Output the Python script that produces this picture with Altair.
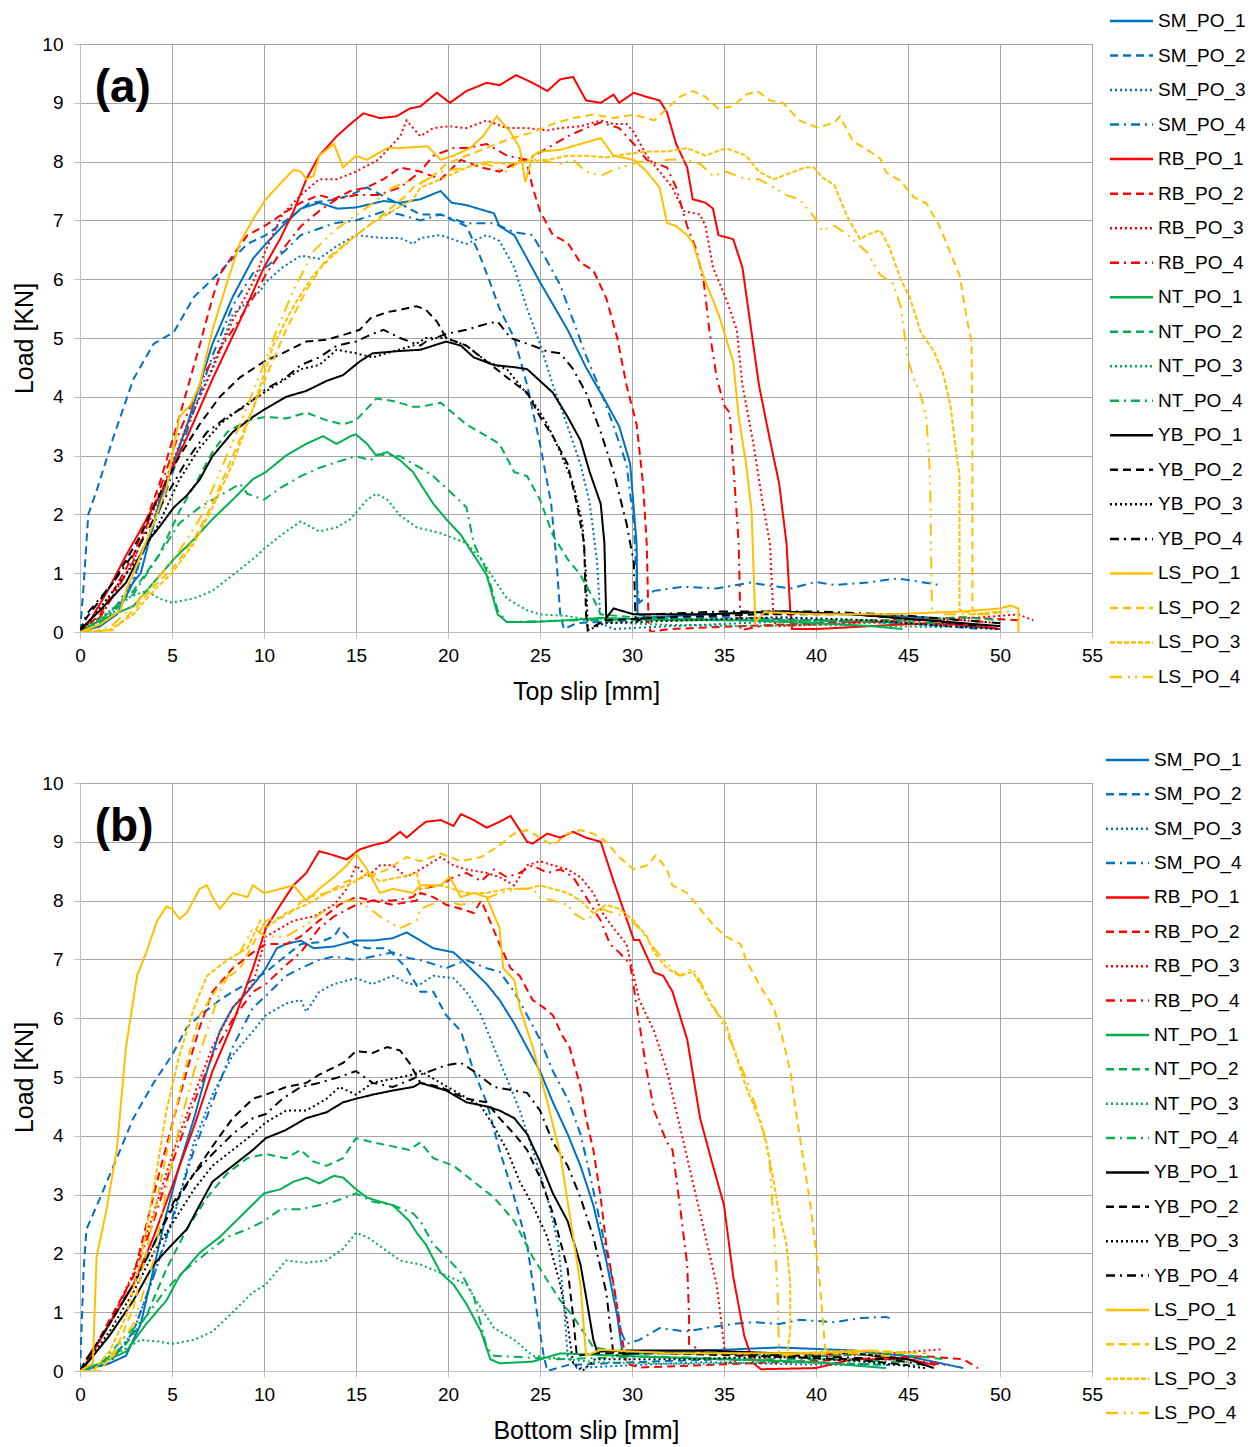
import altair as alt
import pandas as pd

SERIES = ["SM_PO_1", "SM_PO_2", "SM_PO_3", "SM_PO_4",
          "RB_PO_1", "RB_PO_2", "RB_PO_3", "RB_PO_4",
          "NT_PO_1", "NT_PO_2", "NT_PO_3", "NT_PO_4",
          "YB_PO_1", "YB_PO_2", "YB_PO_3", "YB_PO_4",
          "LS_PO_1", "LS_PO_2", "LS_PO_3", "LS_PO_4"]
COLORS = ["#0070C0"] * 4 + ["#FF0000"] * 4 + ["#00B050"] * 4 + ["#000000"] * 4 + ["#FFC000"] * 4
DASHES = [[1, 0], [8, 5], [2, 3], [9, 5, 2, 5]] * 4 + [[1, 0], [8, 5], [5, 2], [12, 6, 2, 5, 2, 6]]

X_TICKS = list(range(0, 56, 5))
Y_TICKS = list(range(0, 11))

# ---------------- panel (a): top slip ----------------
A_SM_PO_1 = [(0,0),(1.1,0.1),(2.0,0.3),(2.9,0.85),(3.3,1.0),(4.3,2.2),(5.8,3.5),(7.2,4.9),(8.3,5.7),(9.4,6.35),(10.1,6.6),(11.0,6.9),(12.0,7.2),(13.0,7.3),(14.0,7.2),(15.0,7.22),(16.5,7.33),(17.4,7.3),(18.5,7.36),(19.6,7.5),(20.2,7.3),(21.0,7.26),(22.5,7.12),(22.8,6.9),(23.6,6.75),(25.0,5.95),(26.5,5.14),(27.5,4.5),(28.6,3.9),(29.3,3.5),(29.9,2.86),(30.25,1.5),(30.3,0.3),(31,0.25),(34,0.3),(38,0.35),(42,0.3),(46,0.25),(48,0.1),(50,0.05)]
A_SM_PO_2 = [(0,0),(0.2,0.8),(0.45,2.0),(0.9,2.4),(1.8,3.3),(2.9,4.3),(4.0,4.9),(5.1,5.1),(6.2,5.7),(7.2,6.0),(8.3,6.35),(9.1,6.6),(10.1,6.75),(11.2,7.0),(12.5,7.3),(13.8,7.35),(14.7,7.43),(15.6,7.56),(16.8,7.36),(17.6,7.25),(18.5,7.1),(19.6,7.1),(21.0,6.9),(21.6,6.5),(22.1,6.1),(22.8,5.5),(23.6,5.0),(24.3,4.2),(25.0,3.2),(25.6,2.2),(25.9,1.2),(26.1,0.3),(26.3,0.05),(27,0.15),(30,0.2),(35,0.25),(40,0.2),(45,0.15),(49,0.05)]
A_SM_PO_3 = [(0,0),(1.1,0.1),(2.0,0.4),(2.9,0.85),(4.3,2.2),(5.8,3.5),(7.2,4.5),(8.3,5.4),(9.8,5.8),(10.1,5.95),(11.0,6.2),(12.0,6.4),(13.0,6.35),(13.9,6.55),(15.0,6.75),(16.5,6.7),(17.4,6.7),(18.1,6.6),(18.5,6.7),(19.6,6.75),(21.0,6.6),(22.1,6.75),(22.8,6.65),(23.6,6.2),(24.3,5.5),(25.0,4.9),(25.7,4.2),(26.5,3.5),(27.2,2.85),(27.7,2.2),(28.1,1.2),(28.3,0.15),(29,0.05),(32,0.1),(36,0.15),(40,0.2),(44,0.15),(47,0.1)]
A_SM_PO_4 = [(0,0),(1.1,0.15),(2.0,0.45),(2.9,0.9),(4.3,2.05),(5.8,3.4),(7.2,4.7),(8.3,5.55),(9.4,6.1),(10.1,6.2),(11.2,6.5),(12.0,6.75),(13.8,6.95),(15.0,7.0),(16.5,7.15),(17.4,7.1),(18.5,7.0),(19.6,7.1),(21.0,6.95),(22.5,6.95),(23.6,6.8),(24.6,6.75),(25.4,6.3),(26.1,5.9),(26.8,5.3),(27.5,4.7),(28.3,4.1),(29.0,3.5),(29.7,2.85),(30.1,1.85),(30.25,0.85),(30.4,0.5),(31.2,0.7),(32.8,0.77),(34.6,0.74),(36.4,0.84),(38.6,0.74),(40,0.85),(41,0.8),(42.8,0.84),(44.4,0.91),(45.5,0.86),(46.7,0.8)]
A_RB_PO_1 = [(0,0),(0.5,0.17),(1.5,0.7),(2.5,1.3),(4.3,2.3),(5.8,3.3),(7.2,4.3),(8.7,5.3),(10.0,6.2),(10.9,6.7),(11.6,7.15),(12.3,7.7),(13.0,8.1),(13.95,8.43),(14.7,8.64),(15.4,8.82),(16.3,8.74),(17.2,8.77),(17.9,8.9),(18.5,8.94),(19.4,9.17),(20.1,9.0),(21.0,9.2),(22.1,9.34),(22.8,9.3),(23.7,9.47),(24.6,9.34),(25.4,9.2),(26.1,9.4),(26.8,9.44),(27.5,9.04),(28.3,9.0),(29.0,9.14),(29.3,9.0),(30.1,9.17),(30.8,9.1),(31.5,9.04),(31.9,8.84),(32.4,8.3),(33.0,7.9),(33.3,7.36),(34.0,7.3),(34.4,7.2),(34.7,6.75),(35.5,6.68),(36.0,6.2),(36.6,4.87),(36.9,4.2),(37.5,3.26),(38.0,2.52),(38.4,1.5),(38.6,0.37),(38.7,0.05),(40,0.05),(43,0.1),(46,0.15),(49,0.1),(50,0.05)]
A_RB_PO_2 = [(0,0),(1.1,0.3),(2.9,1.3),(4.3,2.5),(5.4,3.66),(6.5,4.87),(7.2,5.68),(7.6,6.08),(8.3,6.4),(9.1,6.75),(10.0,6.9),(10.5,7.0),(11.2,7.15),(12.0,7.3),(13.0,7.43),(13.8,7.36),(14.7,7.5),(15.6,7.56),(16.5,7.7),(17.4,7.9),(18.5,7.83),(19.6,7.7),(20.7,8.03),(21.8,7.9),(22.8,7.83),(24.0,8.03),(24.3,7.96),(24.6,7.56),(25.0,7.16),(25.7,6.75),(26.5,6.62),(27.2,6.28),(27.9,6.15),(28.6,5.68),(29.2,5.0),(29.7,4.2),(30.25,3.53),(30.6,2.52),(30.8,1.5),(30.9,0.17),(31,0.0),(32,0.05),(36,0.1),(40,0.15),(44,0.2),(48,0.25),(51,0.2)]
A_RB_PO_3 = [(0,0),(1.1,0.25),(2.9,1.2),(4.3,2.3),(5.8,3.5),(7.2,4.47),(8.3,5.3),(9.4,5.95),(10.1,6.5),(11.0,7.1),(12.0,7.43),(13.0,7.7),(13.95,7.7),(15.0,7.83),(16.2,8.03),(17.4,8.43),(17.75,8.7),(18.5,8.43),(19.2,8.57),(20.1,8.6),(21.0,8.57),(22.1,8.7),(23.2,8.57),(24.3,8.57),(25.4,8.53),(26.1,8.57),(27.2,8.6),(28.3,8.7),(29.0,8.64),(29.7,8.64),(30.1,8.5),(30.8,8.1),(31.5,7.83),(32.2,7.56),(32.8,7.16),(33.7,7.1),(34.0,6.9),(34.4,6.2),(35.1,5.68),(35.7,5.14),(36.0,4.2),(36.6,3.2),(37.1,2.2),(37.5,1.5),(37.7,0.17),(38,0.1),(42,0.15),(46,0.2),(49,0.25),(51,0.3),(51.8,0.2)]
A_RB_PO_4 = [(0,0),(1.1,0.25),(2.9,1.2),(4.2,2.3),(5.4,3.4),(6.9,4.47),(8.3,5.14),(9.4,5.68),(10.1,6.08),(11.0,6.5),(12.0,6.9),(13.0,7.16),(13.95,7.36),(15.0,7.43),(16.2,7.43),(17.4,7.56),(18.5,7.83),(19.2,8.1),(20.3,8.23),(21.0,8.23),(22.1,8.3),(23.2,8.1),(24.3,8.03),(25.4,8.23),(26.5,8.43),(27.5,8.57),(28.3,8.67),(29.3,8.57),(30.1,8.3),(30.8,8.03),(31.9,7.9),(32.4,7.56),(33.0,6.9),(33.5,6.5),(33.9,5.95),(34.2,5.14),(34.6,4.33),(35.0,3.86),(35.3,3.73),(35.5,2.86),(35.8,1.5),(35.9,0.03),(37,0.1),(41,0.15),(45,0.2),(48,0.2),(50,0.15)]
A_NT_PO_1 = [(0,0),(1.1,0.2),(2.9,0.44),(4.0,0.84),(5.1,1.24),(6.2,1.58),(7.2,1.92),(8.3,2.25),(9.4,2.6),(10.1,2.72),(11.2,3.0),(12.3,3.2),(13.2,3.33),(13.95,3.2),(14.7,3.33),(15.0,3.36),(15.6,3.2),(16.1,3.0),(16.7,3.06),(17.4,2.92),(18.1,2.72),(18.5,2.52),(19.2,2.18),(19.9,1.92),(20.7,1.65),(21.4,1.31),(22.1,0.97),(22.7,0.3),(23.2,0.17),(24.6,0.17),(26.5,0.2),(28.3,0.24),(32,0.2),(36,0.2),(40,0.15),(43,0.1),(44.7,0.05)]
A_NT_PO_2 = [(0,0),(1.1,0.2),(2.9,0.7),(4.3,1.31),(5.4,2.05),(6.5,2.65),(7.2,3.06),(8.0,3.4),(9.1,3.6),(10.1,3.66),(11.2,3.63),(12.3,3.73),(13.4,3.6),(14.3,3.53),(15.0,3.6),(15.6,3.8),(16.1,3.97),(17.0,3.93),(18.1,3.83),(18.5,3.83),(19.6,3.9),(21.0,3.53),(22.1,3.33),(22.8,3.2),(23.6,2.72),(24.3,2.65),(25.0,2.25),(25.7,1.65),(26.5,1.24),(27.2,0.97),(27.9,0.57),(28.3,0.3),(30,0.25),(35,0.2),(40,0.2),(45,0.2),(48,0.25),(50,0.2)]
A_NT_PO_3 = [(0,0),(1.1,0.24),(2.5,0.57),(3.6,0.7),(4.3,0.57),(5.0,0.5),(6.2,0.57),(7.2,0.7),(8.3,0.97),(9.4,1.24),(10.1,1.44),(11.2,1.71),(12.0,1.88),(13.0,1.71),(13.95,1.78),(14.7,1.92),(15.6,2.25),(16.1,2.35),(16.7,2.25),(17.4,1.98),(18.3,1.78),(19.6,1.68),(21.0,1.51),(21.8,1.24),(22.5,0.9),(23.2,0.57),(24.3,0.37),(25.0,0.3),(26.5,0.27),(28.3,0.17),(32,0.12),(36,0.1),(40,0.12),(44,0.1),(47,0.08)]
A_NT_PO_4 = [(0,0),(1.1,0.17),(2.9,0.64),(4.3,1.31),(5.4,1.85),(6.5,2.12),(7.6,2.32),(8.7,2.52),(9.1,2.35),(10.0,2.25),(10.9,2.45),(12.0,2.65),(13.0,2.79),(13.95,2.89),(15.0,2.99),(15.8,2.92),(16.1,3.02),(17.4,2.99),(18.5,2.79),(19.2,2.65),(20.1,2.39),(21.0,2.12),(21.4,1.51),(22.1,1.04),(22.7,0.37),(23.2,0.17),(27,0.2),(32,0.22),(37,0.2),(42,0.18),(47,0.15)]
A_YB_PO_1 = [(0,0),(0.2,0.1),(1.1,0.37),(2.5,0.84),(3.6,1.51),(4.3,1.78),(5.1,2.12),(5.8,2.32),(6.5,2.59),(7.2,2.99),(8.3,3.4),(9.4,3.66),(10.1,3.8),(11.2,4.0),(12.3,4.1),(13.4,4.27),(14.3,4.37),(15.2,4.6),(15.9,4.74),(17.4,4.78),(18.5,4.8),(19.9,4.94),(20.7,4.87),(21.4,4.67),(22.5,4.54),(23.7,4.5),(24.3,4.47),(25.0,4.27),(25.7,4.07),(26.5,3.66),(27.2,3.26),(27.7,2.72),(28.3,2.18),(28.5,1.51),(28.6,0.24),(29,0.4),(30.1,0.3),(34,0.3),(38,0.35),(42,0.3),(46,0.2),(50,0.1)]
A_YB_PO_2 = [(0,0),(0.35,0.24),(1.8,0.84),(3.3,1.65),(4.3,2.32),(5.4,2.99),(6.5,3.53),(7.6,4.0),(8.7,4.33),(10.0,4.6),(11.0,4.74),(12.3,4.94),(13.4,4.97),(14.5,5.07),(15.2,5.14),(15.8,5.34),(16.7,5.44),(17.4,5.48),(18.3,5.54),(18.8,5.48),(19.4,5.28),(19.9,5.0),(21.0,4.87),(22.1,4.6),(23.2,4.33),(24.3,4.07),(25.0,3.66),(25.7,3.33),(26.5,2.86),(27.0,2.18),(27.4,1.51),(27.5,0.3),(27.6,0.03),(28.5,0.2),(32,0.25),(37,0.3),(42,0.3),(46,0.2),(49,0.1)]
A_YB_PO_3 = [(0,0),(0.5,0.17),(1.8,0.7),(3.3,1.31),(4.3,1.85),(5.4,2.59),(6.5,3.13),(7.6,3.53),(8.7,3.8),(10.0,4.07),(11.0,4.27),(12.0,4.47),(13.0,4.54),(13.95,4.8),(15.0,4.74),(15.9,4.67),(17.0,4.77),(18.1,4.87),(18.8,5.0),(19.9,5.0),(21.0,4.87),(22.1,4.6),(23.2,4.47),(23.9,4.2),(24.6,3.93),(25.4,3.53),(26.1,3.06),(26.8,2.52),(27.3,1.85),(27.5,0.97),(27.6,0.03),(28.5,0.15),(33,0.2),(38,0.25),(43,0.2),(47,0.1),(50,0.05)]
A_YB_PO_4 = [(0,0),(0.35,0.3),(1.8,0.84),(3.3,1.51),(4.7,2.32),(5.8,2.92),(6.9,3.4),(8.0,3.66),(9.1,3.86),(10.1,4.13),(11.2,4.33),(12.0,4.54),(13.0,4.67),(13.95,4.87),(15.0,4.94),(15.9,5.07),(16.5,5.14),(17.4,5.0),(18.5,4.87),(18.8,4.94),(19.9,5.07),(21.0,5.14),(22.1,5.24),(22.7,5.28),(23.4,5.0),(24.6,4.87),(25.4,4.77),(26.1,4.74),(26.8,4.47),(27.5,4.07),(28.3,3.4),(29.0,2.72),(29.7,1.85),(30.1,1.18),(30.2,0.17),(31,0.3),(35,0.35),(40,0.35),(44,0.3),(48,0.2),(50,0.15)]
A_LS_PO_1 = [(0,0),(1.1,0.13),(2.2,0.37),(2.5,0.7),(3.3,1.31),(4.0,1.85),(4.7,2.45),(5.4,3.66),(6.0,3.86),(6.5,4.2),(7.2,5.14),(8.0,5.95),(8.7,6.62),(9.4,7.02),(10.1,7.36),(10.9,7.63),(11.6,7.86),(12.0,7.83),(12.3,7.7),(12.7,7.76),(13.0,8.1),(13.8,8.3),(14.3,7.9),(15.0,8.1),(15.6,8.03),(16.7,8.23),(17.4,8.23),(18.9,8.26),(19.6,8.03),(20.3,8.1),(21.2,8.23),(21.9,8.43),(22.65,8.77),(23.4,8.5),(23.9,8.23),(24.2,7.65),(24.6,8.1),(25.0,8.17),(26.1,8.2),(27.2,8.3),(28.3,8.4),(29.0,8.1),(30.1,8.03),(30.8,7.83),(31.5,7.56),(31.9,6.96),(32.4,6.9),(33.0,6.75),(33.3,6.62),(34.0,5.95),(34.7,5.41),(35.5,4.6),(35.8,3.66),(36.2,2.86),(36.5,2.05),(36.7,0.17),(37.2,0.34),(40,0.3),(44,0.3),(48,0.35),(50,0.4),(50.6,0.45),(51,0.4),(51,0.0)]
A_LS_PO_2 = [(0,0),(1.8,0.03),(2.9,0.37),(4.0,0.77),(5.1,1.1),(6.2,1.58),(7.2,2.18),(8.3,2.99),(9.4,3.8),(10.1,4.33),(11.2,5.14),(12.3,5.81),(13.4,6.35),(14.5,6.62),(15.6,6.89),(16.7,7.16),(17.75,7.43),(18.1,7.56),(19.2,7.76),(19.9,7.96),(21.0,8.1),(22.1,8.23),(23.2,8.37),(24.6,8.5),(25.7,8.64),(26.8,8.74),(27.9,8.8),(29.0,8.74),(30.1,8.8),(31.2,8.7),(31.9,8.9),(32.6,9.1),(33.3,9.2),(34.0,9.1),(34.7,8.9),(35.5,8.94),(36.2,9.14),(36.8,9.2),(37.5,9.04),(38.2,9.0),(39.1,8.7),(40.05,8.58),(41.0,8.66),(41.3,8.77),(42.0,8.35),(42.8,8.2),(43.5,8.05),(43.8,7.82),(44.6,7.67),(45.3,7.4),(46.0,7.29),(46.7,6.91),(47.3,6.45),(47.8,6.07),(48.2,5.32),(48.45,4.94),(48.5,3.42),(48.5,0.38),(49,0.3),(50.5,0.35)]
A_LS_PO_3 = [(0,0),(1.6,0.03),(2.9,0.3),(4.0,0.7),(5.1,1.04),(6.2,1.51),(7.2,2.12),(8.3,2.86),(9.4,3.8),(10.5,4.87),(11.6,5.54),(12.7,6.08),(13.8,6.42),(15.0,6.75),(15.9,6.96),(17.0,7.16),(18.1,7.36),(18.5,7.56),(19.6,7.7),(21.0,7.9),(22.1,8.0),(23.2,7.96),(24.3,8.0),(25.4,8.03),(26.5,8.1),(27.5,8.1),(28.6,8.07),(29.7,8.13),(30.8,8.17),(31.9,8.17),(33.0,8.23),(34.0,8.1),(35.1,8.23),(36.2,8.1),(36.9,7.83),(37.7,7.7),(38.8,7.83),(39.4,7.9),(39.9,7.9),(40.3,7.74),(41.0,7.6),(41.7,7.06),(42.4,6.68),(42.8,6.76),(43.5,6.83),(44.0,6.53),(44.6,6.0),(45.1,5.69),(45.7,5.09),(46.4,4.78),(46.9,4.4),(47.3,3.87),(47.6,3.11),(47.8,2.66),(47.8,0.38),(48.5,0.3),(50,0.35)]
A_LS_PO_4 = [(0,0),(1.6,0.07),(2.9,0.44),(4.2,0.9),(5.4,1.38),(6.5,1.92),(7.6,2.72),(8.7,3.53),(9.8,4.4),(10.7,5.14),(11.6,5.81),(12.7,6.48),(13.8,6.82),(15.0,7.09),(15.9,7.29),(17.0,7.56),(18.1,7.7),(18.5,7.63),(19.6,7.83),(21.0,7.9),(22.1,7.96),(23.2,7.83),(24.0,8.03),(25.0,8.03),(26.1,7.96),(26.8,8.03),(27.5,7.83),(28.3,7.76),(29.0,7.86),(29.7,7.93),(30.4,8.0),(31.2,7.96),(31.9,8.03),(33.0,8.03),(33.7,7.96),(34.4,7.76),(35.1,7.83),(36.2,7.7),(36.9,7.7),(37.7,7.56),(38.4,7.43),(39.1,7.36),(39.9,7.06),(40.3,6.83),(41.0,6.91),(41.7,6.76),(42.8,6.45),(43.5,6.07),(44.2,5.92),(44.6,5.54),(45.0,4.63),(45.3,4.33),(45.7,4.02),(46.0,3.64),(46.2,2.66),(46.3,0.38),(47,0.3),(49.5,0.3)]

# ---------------- panel (b): bottom slip ----------------
B_SM_PO_1 = [(0,0),(1.6,0.13),(2.5,0.26),(3.3,0.8),(4.0,1.74),(4.7,2.68),(5.4,3.49),(6.2,4.3),(6.9,5.1),(7.6,5.78),(8.3,6.18),(9.1,6.45),(9.8,6.72),(10.1,6.85),(10.7,7.19),(11.2,7.26),(12.0,7.32),(12.7,7.19),(13.8,7.22),(15.0,7.32),(15.9,7.32),(17.0,7.36),(17.75,7.46),(18.5,7.32),(19.2,7.19),(20.3,7.12),(21.0,6.92),(22.1,6.58),(22.8,6.31),(23.6,5.91),(24.3,5.5),(25.0,5.1),(25.7,4.57),(26.5,4.03),(27.2,3.49),(27.9,2.82),(28.6,1.88),(29.2,0.93),(29.5,0.26),(30.5,0.3),(34,0.35),(38,0.4),(42,0.35),(45,0.25),(48,0.05)]
B_SM_PO_2 = [(0,0),(0.2,1.74),(0.35,2.41),(1.1,2.95),(2.0,3.62),(2.9,4.3),(4.0,4.9),(5.0,5.37),(5.8,5.84),(6.5,6.04),(7.6,6.31),(8.3,6.45),(9.4,6.65),(10.1,6.78),(10.9,6.99),(12.0,7.26),(13.0,7.29),(13.8,7.39),(14.1,7.53),(14.9,7.26),(15.6,7.19),(16.7,7.19),(17.75,6.85),(18.5,6.45),(19.2,6.45),(19.9,6.05),(20.7,5.78),(21.4,5.1),(22.1,4.57),(22.8,3.76),(23.6,2.95),(24.3,2.15),(24.8,1.07),(25.2,0.26),(25.4,0.0),(26.5,0.1),(30,0.15),(35,0.2),(40,0.15),(44,0.1)]
B_SM_PO_3 = [(0,0),(1.6,0.13),(2.9,0.67),(4.0,1.61),(5.1,2.62),(6.2,3.89),(7.2,4.7),(8.3,5.37),(9.4,5.78),(10.1,6.05),(11.2,6.25),(12.0,6.31),(12.3,6.11),(13.0,6.45),(13.8,6.58),(15.0,6.68),(15.9,6.58),(17.0,6.72),(17.9,6.58),(18.5,6.58),(19.2,6.72),(20.3,6.68),(21.0,6.45),(21.8,6.05),(22.5,5.5),(23.2,4.97),(23.9,4.43),(24.6,3.76),(25.4,2.95),(26.0,2.15),(26.3,1.14),(26.5,0.26),(27,0.05),(30,0.1),(34,0.15),(38,0.12),(42,0.1)]
B_SM_PO_4 = [(0,0),(1.6,0.13),(2.9,0.67),(4.0,1.61),(5.1,2.68),(6.2,3.76),(7.2,4.57),(8.3,5.51),(9.4,6.18),(10.1,6.38),(11.2,6.72),(12.0,6.85),(13.0,6.99),(13.8,7.05),(15.0,6.99),(15.9,7.05),(17.0,7.12),(17.9,7.02),(18.5,6.99),(19.2,6.92),(19.9,6.85),(21.0,6.99),(22.1,6.85),(22.8,6.79),(23.6,6.45),(24.3,6.05),(25.0,5.64),(25.7,5.1),(26.5,4.63),(27.2,4.03),(27.7,3.36),(28.3,2.48),(29.0,1.47),(29.4,0.67),(29.7,0.46),(30.4,0.53),(31.5,0.73),(32.9,0.67),(34.0,0.73),(35.5,0.8),(36.6,0.83),(38.0,0.8),(39.1,0.87),(41.0,0.83),(42.4,0.9),(43.8,0.92),(44.0,0.9)]
B_RB_PO_1 = [(0,0),(0.2,0.06),(1.6,0.8),(2.9,1.47),(4.0,2.28),(5.1,3.22),(6.2,4.16),(7.2,5.1),(8.3,5.91),(9.4,6.85),(10.1,7.53),(10.9,7.93),(11.6,8.26),(12.3,8.47),(13.0,8.84),(13.8,8.77),(14.5,8.7),(15.2,8.87),(15.9,8.94),(16.7,9.0),(17.4,9.17),(17.75,9.07),(18.5,9.27),(18.8,9.34),(19.6,9.37),(20.3,9.27),(20.7,9.47),(21.4,9.37),(22.1,9.24),(22.8,9.34),(23.4,9.44),(23.9,9.2),(24.3,9.0),(24.6,8.97),(25.4,9.14),(26.1,9.07),(26.8,9.17),(27.5,9.07),(28.3,9.0),(29.0,8.33),(29.3,8.06),(30.1,7.33),(30.4,7.33),(31.2,6.78),(31.7,6.72),(32.2,6.45),(33.0,5.64),(33.7,4.3),(34.4,3.49),(35.0,2.82),(35.5,1.61),(36.1,0.6),(36.6,0.13),(37.0,0.03),(40,0.05),(42,0.2),(45,0.2),(46.5,0.1)]
B_RB_PO_2 = [(0,0),(0.35,0.13),(1.6,0.87),(2.9,1.61),(3.6,2.48),(4.3,3.36),(5.1,4.3),(5.8,5.1),(6.5,5.84),(7.2,6.45),(8.3,6.85),(9.4,7.12),(10.1,7.26),(11.2,7.26),(12.0,7.39),(13.0,7.66),(14.1,7.93),(15.0,8.06),(15.9,8.0),(17.0,7.93),(18.3,8.0),(18.5,8.13),(19.2,8.06),(19.9,7.93),(20.7,7.86),(21.4,7.79),(21.8,8.0),(22.1,7.79),(22.8,7.26),(23.4,6.85),(23.9,6.72),(24.6,6.31),(25.2,6.18),(25.7,6.05),(26.2,5.71),(26.6,5.51),(27.2,4.83),(27.5,4.3),(27.9,3.76),(28.3,2.95),(28.6,2.15),(29.0,1.47),(29.4,0.67),(29.7,0.13),(30.4,0.06),(34,0.1),(38,0.15),(42,0.2),(46,0.25),(48,0.2),(48.8,0.05)]
B_RB_PO_3 = [(0,0),(0.35,0.13),(1.6,0.8),(2.9,1.67),(4.0,2.68),(5.1,3.76),(6.2,4.7),(7.2,5.51),(8.3,6.18),(9.4,6.58),(10.1,7.39),(10.9,7.53),(11.6,7.66),(12.7,7.73),(13.8,7.93),(14.5,8.2),(15.0,8.6),(15.6,8.4),(16.3,8.6),(17.0,8.6),(17.75,8.4),(18.5,8.53),(19.6,8.74),(20.3,8.6),(21.0,8.53),(22.1,8.47),(22.8,8.4),(23.6,8.26),(24.3,8.6),(25.0,8.67),(25.7,8.6),(26.5,8.53),(27.2,8.4),(27.9,8.13),(28.4,7.79),(29.0,7.53),(29.7,7.26),(30.1,6.72),(30.4,6.31),(31.2,5.78),(31.9,5.1),(32.6,4.16),(33.3,3.22),(34.0,2.28),(34.6,1.47),(35.0,0.46),(35.1,0.13),(36,0.2),(40,0.25),(44,0.3),(46.9,0.37)]
B_RB_PO_4 = [(0,0),(0.35,0.13),(1.6,0.8),(2.9,1.61),(4.0,2.55),(5.1,3.62),(6.2,4.57),(7.2,5.37),(8.3,5.98),(9.4,6.45),(10.1,6.58),(11.0,6.85),(12.0,7.12),(13.0,7.53),(13.8,7.73),(15.0,7.93),(15.9,8.0),(17.0,8.0),(18.1,8.06),(18.5,8.2),(19.6,8.26),(20.3,8.4),(21.0,8.47),(21.8,8.33),(22.5,8.53),(23.2,8.4),(23.9,8.47),(24.6,8.6),(25.4,8.47),(26.1,8.53),(26.8,8.4),(27.5,8.06),(28.3,7.66),(28.8,7.26),(29.3,7.12),(29.9,6.92),(30.4,5.91),(30.8,5.1),(31.2,4.43),(31.9,3.89),(32.2,3.76),(32.6,2.82),(33.0,1.81),(33.1,0.93),(33.1,0.46),(34,0.3),(38,0.25),(42,0.3),(45,0.2),(47,0.1)]
B_NT_PO_1 = [(0,0),(1.1,0.13),(2.5,0.33),(3.6,0.8),(4.7,1.2),(5.4,1.61),(6.5,2.01),(7.6,2.28),(8.7,2.62),(10.0,3.02),(10.9,3.09),(11.6,3.22),(12.3,3.29),(13.0,3.19),(13.8,3.32),(14.3,3.29),(15.0,3.09),(15.6,2.95),(16.3,2.88),(17.0,2.82),(17.9,2.55),(18.3,2.35),(18.8,2.15),(19.6,1.67),(20.3,1.47),(21.0,1.14),(21.8,0.67),(22.3,0.2),(22.8,0.13),(24.6,0.16),(26.1,0.3),(30,0.25),(35,0.2),(40,0.15),(43.8,0.05)]
B_NT_PO_2 = [(0,0),(1.1,0.13),(2.5,0.46),(3.6,0.93),(4.7,1.74),(5.8,2.41),(6.9,2.95),(8.0,3.36),(9.1,3.62),(10.1,3.69),(11.2,3.62),(12.0,3.76),(12.7,3.56),(13.4,3.49),(14.3,3.62),(15.0,3.96),(15.9,3.89),(17.0,3.82),(17.9,3.76),(18.5,3.89),(19.2,3.62),(20.3,3.49),(21.4,3.22),(22.5,2.95),(23.6,2.55),(24.6,1.94),(25.4,1.54),(26.1,1.2),(26.8,0.93),(27.5,0.6),(27.9,0.4),(30,0.3),(35,0.3),(40,0.25),(44,0.3),(47,0.2)]
B_NT_PO_3 = [(0,0),(1.1,0.13),(2.2,0.33),(3.3,0.53),(4.3,0.5),(5.0,0.46),(6.2,0.53),(7.2,0.67),(8.3,1.0),(9.4,1.34),(10.1,1.47),(11.2,1.88),(12.3,1.84),(13.4,1.88),(14.3,2.08),(15.0,2.35),(15.6,2.28),(16.5,2.08),(17.4,1.88),(18.5,1.81),(19.6,1.67),(21.0,1.47),(21.8,1.07),(22.5,0.73),(23.6,0.53),(24.6,0.26),(28,0.15),(33,0.12),(38,0.15),(42,0.12),(46,0.1)]
B_NT_PO_4 = [(0,0),(1.1,0.13),(2.5,0.6),(3.6,0.93),(4.7,1.4),(5.8,1.74),(6.9,2.01),(8.0,2.28),(9.1,2.41),(10.0,2.55),(10.9,2.75),(12.0,2.75),(13.0,2.82),(13.8,2.88),(15.0,3.02),(15.9,2.88),(17.0,2.82),(18.1,2.68),(18.5,2.55),(19.2,2.15),(19.9,1.94),(20.7,1.67),(21.4,1.27),(22.1,0.4),(22.5,0.26),(26,0.2),(31,0.25),(36,0.2),(41,0.2),(45,0.15)]
B_YB_PO_1 = [(0,0),(0.2,0.06),(1.6,0.6),(2.9,1.2),(4.0,1.81),(5.0,2.15),(5.8,2.41),(6.5,2.82),(7.2,3.22),(8.3,3.49),(9.4,3.76),(10.1,3.96),(11.2,4.1),(12.3,4.3),(13.4,4.4),(14.3,4.57),(15.0,4.63),(15.9,4.7),(17.0,4.77),(18.1,4.83),(18.5,4.9),(19.9,4.77),(21.0,4.57),(22.1,4.5),(22.8,4.43),(23.6,4.3),(24.3,4.03),(25.0,3.56),(25.7,3.02),(26.5,2.55),(27.2,1.81),(27.5,1.27),(27.9,0.53),(28.1,0.33),(30,0.35),(34,0.35),(38,0.3),(42,0.3),(45,0.2),(46.4,0.05)]
B_YB_PO_2 = [(0,0),(0.35,0.2),(1.6,0.8),(2.9,1.47),(4.0,2.15),(5.1,2.82),(6.2,3.36),(7.2,3.82),(8.3,4.3),(9.4,4.63),(10.1,4.7),(11.2,4.83),(12.3,4.9),(13.0,5.04),(14.3,5.24),(15.0,5.44),(15.9,5.41),(16.7,5.51),(17.4,5.45),(17.9,5.24),(18.5,4.9),(19.6,4.83),(21.0,4.63),(22.1,4.57),(22.8,4.3),(23.6,4.03),(24.3,3.76),(25.0,3.29),(25.7,2.68),(26.5,1.74),(26.8,0.93),(27.0,0.26),(28,0.3),(32,0.3),(37,0.25),(42,0.2),(45,0.1)]
B_YB_PO_3 = [(0,0),(0.35,0.13),(1.6,0.67),(2.9,1.34),(4.0,2.01),(5.1,2.55),(6.2,3.09),(7.2,3.49),(8.3,3.76),(9.4,4.03),(10.1,4.23),(11.2,4.43),(12.3,4.43),(13.4,4.63),(14.1,4.83),(15.0,4.7),(15.9,4.9),(17.0,4.97),(18.1,5.04),(18.5,5.1),(19.6,4.9),(20.7,4.7),(21.8,4.5),(22.5,4.16),(23.2,3.76),(23.9,3.22),(24.6,2.82),(25.4,2.28),(26.1,1.47),(26.5,0.8),(26.8,0.13),(27.3,0.0),(28,0.2),(33,0.2),(38,0.25),(43,0.15),(46,0.05)]
B_YB_PO_4 = [(0,0),(0.35,0.2),(1.6,0.8),(2.9,1.47),(4.0,2.15),(5.1,2.88),(6.2,3.36),(7.2,3.69),(8.3,4.03),(9.4,4.3),(10.1,4.37),(11.0,4.63),(12.0,4.83),(13.0,4.9),(14.1,5.0),(15.0,5.1),(15.9,4.9),(17.0,4.83),(18.1,4.97),(18.5,5.04),(19.9,5.2),(20.7,5.24),(21.4,5.1),(22.5,4.83),(23.6,4.77),(24.3,4.73),(25.0,4.43),(25.7,3.89),(26.5,3.49),(27.2,2.95),(27.9,2.28),(28.6,1.34),(29.0,0.26),(30,0.3),(35,0.3),(40,0.25),(44,0.2),(46,0.1)]
B_LS_PO_1 = [(0,0),(0.7,0.13),(0.9,1.94),(1.4,2.68),(2.0,3.76),(2.5,5.51),(3.1,6.72),(3.6,7.12),(4.2,7.66),(4.7,7.9),(5.0,7.86),(5.4,7.69),(5.8,7.79),(6.5,8.2),(6.9,8.26),(7.2,8.06),(7.6,7.86),(8.3,8.13),(9.1,8.06),(9.4,8.26),(10.0,8.13),(10.9,8.2),(11.6,8.26),(12.3,8.0),(13.0,8.2),(13.8,8.4),(14.5,8.6),(15.0,8.8),(15.6,8.53),(16.3,8.13),(17.0,8.2),(18.1,8.13),(18.5,8.26),(19.6,8.26),(20.1,8.4),(20.7,8.06),(21.4,8.13),(22.1,8.06),(22.8,7.53),(23.0,6.85),(23.6,6.65),(23.9,6.18),(24.6,5.51),(25.4,4.57),(26.1,3.69),(26.8,2.28),(27.2,1.47),(27.5,0.26),(28.3,0.36),(32,0.3),(36,0.3),(40,0.3),(43,0.35)]
B_LS_PO_2 = [(0,0),(1.1,0.0),(2.0,0.4),(2.9,1.07),(3.6,2.01),(4.3,3.09),(5.1,4.3),(5.8,5.24),(6.5,6.05),(7.6,6.58),(8.7,6.85),(9.4,7.26),(10.1,7.66),(11.2,7.73),(12.3,8.06),(13.4,8.13),(14.5,8.33),(15.6,8.4),(16.7,8.53),(17.75,8.74),(18.5,8.67),(19.6,8.8),(20.7,8.67),(21.8,8.74),(22.8,8.94),(23.6,9.14),(24.3,9.2),(25.0,9.07),(25.7,8.94),(26.5,9.14),(27.2,9.2),(27.9,9.14),(28.6,9.0),(29.3,8.74),(30.1,8.53),(30.8,8.6),(31.3,8.77),(31.9,8.53),(32.2,8.26),(33.0,8.13),(33.7,7.86),(34.4,7.59),(35.1,7.39),(35.9,7.26),(36.2,6.99),(36.9,6.58),(37.7,6.18),(38.2,5.64),(38.6,5.1),(38.9,4.43),(39.3,3.62),(39.7,2.82),(40.2,1.52),(40.5,0.37),(41,0.3),(43,0.35),(46,0.3)]
B_LS_PO_3 = [(0,0),(0.7,0.0),(1.6,0.33),(2.5,0.93),(3.3,1.88),(4.0,3.09),(4.7,4.43),(5.4,5.37),(6.2,6.18),(6.9,6.72),(8.0,6.99),(9.1,7.19),(9.8,7.66),(10.1,7.53),(11.2,7.79),(12.3,7.93),(13.4,8.13),(14.5,8.26),(15.0,8.33),(15.6,8.47),(16.3,8.33),(17.4,8.4),(18.3,8.47),(18.5,8.2),(19.6,8.26),(21.0,8.13),(22.1,8.13),(23.2,8.2),(24.3,8.2),(25.0,8.26),(25.7,8.2),(26.5,8.13),(27.2,8.0),(27.9,7.79),(28.6,7.93),(29.3,7.86),(30.1,7.66),(30.8,7.39),(31.2,7.12),(31.9,6.85),(32.6,6.72),(33.3,6.79),(33.7,6.58),(34.4,6.18),(35.1,5.91),(35.5,5.51),(36.2,4.83),(36.9,4.3),(37.3,3.89),(37.7,3.22),(38.0,2.68),(38.4,2.15),(38.6,1.47),(38.6,0.67),(38.4,0.26),(39,0.3),(42,0.35),(45,0.3)]
B_LS_PO_4 = [(0,0),(0.7,0.0),(1.8,0.26),(2.9,0.8),(4.0,1.88),(4.7,3.09),(5.4,4.16),(6.2,5.1),(6.9,5.78),(7.6,6.45),(8.7,7.12),(9.4,7.53),(10.1,7.39),(11.2,7.39),(12.3,7.59),(13.4,7.86),(14.5,8.0),(15.2,8.0),(16.3,7.73),(17.4,7.53),(18.3,7.66),(18.5,7.86),(19.6,8.0),(20.7,7.93),(21.8,8.0),(22.8,8.13),(23.9,8.2),(24.6,8.2),(25.0,8.06),(25.7,8.0),(26.5,7.93),(26.8,7.79),(27.5,7.66),(28.3,7.86),(29.0,7.79),(29.7,7.73),(30.4,7.53),(31.2,7.19),(31.9,6.92),(32.6,6.72),(33.3,6.85),(34.0,6.45),(34.7,6.05),(35.5,5.51),(36.2,4.97),(36.8,4.43),(37.1,4.16),(37.5,3.49),(37.7,2.48),(37.9,1.47),(38.0,0.26),(39,0.3),(42,0.3),(44,0.25)]

PANEL_A = [A_SM_PO_1, A_SM_PO_2, A_SM_PO_3, A_SM_PO_4, A_RB_PO_1, A_RB_PO_2, A_RB_PO_3, A_RB_PO_4,
           A_NT_PO_1, A_NT_PO_2, A_NT_PO_3, A_NT_PO_4, A_YB_PO_1, A_YB_PO_2, A_YB_PO_3, A_YB_PO_4,
           A_LS_PO_1, A_LS_PO_2, A_LS_PO_3, A_LS_PO_4]
PANEL_B = [B_SM_PO_1, B_SM_PO_2, B_SM_PO_3, B_SM_PO_4, B_RB_PO_1, B_RB_PO_2, B_RB_PO_3, B_RB_PO_4,
           B_NT_PO_1, B_NT_PO_2, B_NT_PO_3, B_NT_PO_4, B_YB_PO_1, B_YB_PO_2, B_YB_PO_3, B_YB_PO_4,
           B_LS_PO_1, B_LS_PO_2, B_LS_PO_3, B_LS_PO_4]

FONT = "Liberation Sans"
W, H = 1012, 588


def to_frame(curves):
    rows = []
    for name, pts in zip(SERIES, curves):
        for i, (x, y) in enumerate(pts):
            rows.append({"series": name, "x": x, "y": y, "i": i})
    return pd.DataFrame(rows)


color_enc = alt.Color("series:N", scale=alt.Scale(domain=SERIES, range=COLORS), legend=None)
dash_enc = alt.StrokeDash("series:N", scale=alt.Scale(domain=SERIES, range=DASHES), legend=None)


def panel(curves, xtitle, tag, leg_x0, leg_range):
    df = to_frame(curves)
    yscale = alt.Scale(domain=[0, 10], nice=False)
    lines = alt.Chart(df).mark_line(strokeWidth=2, clip=True).encode(
        x=alt.X("x:Q", scale=alt.Scale(domain=[0, 55], nice=False),
                axis=alt.Axis(values=X_TICKS, title=xtitle, format="d", labelFlush=False)),
        y=alt.Y("y:Q", scale=yscale,
                axis=alt.Axis(values=Y_TICKS, title="Load [KN]", format="d", labelFlush=False)),
        color=color_enc,
        strokeDash=dash_enc,
        detail="series:N",
        order="i:Q",
    )
    label_df = pd.DataFrame({"x": [0.8], "y": [9.25], "t": [tag]})
    label = alt.Chart(label_df).mark_text(fontSize=46, fontWeight="bold", font=FONT,
                                          align="left", baseline="middle", color="#000000").encode(
        x="x:Q", y=alt.Y("y:Q", scale=yscale, axis=None), text="t:N")

    leg_df = pd.DataFrame({"series": SERIES})
    leg_y = alt.Y("series:N", scale=alt.Scale(type="point", domain=SERIES, range=leg_range, padding=0),
                  axis=None)
    leg_rules = alt.Chart(leg_df).mark_rule(strokeWidth=2.5).encode(
        x=alt.value(leg_x0), x2=alt.value(leg_x0 + 43), y=leg_y,
        color=color_enc, strokeDash=dash_enc)
    leg_text = alt.Chart(leg_df).mark_text(align="left", baseline="middle", fontSize=19,
                                           font=FONT, color="#000000").encode(
        x=alt.value(leg_x0 + 48), y=leg_y, text="series:N")
    return alt.layer(lines, label, leg_rules, leg_text).resolve_scale(y="independent").properties(
        width=W, height=H)


top = panel(PANEL_A, "Top slip [mm]", "(a)", 1030, [-23, 633])
bottom = panel(PANEL_B, "Bottom slip [mm]", "(b)", 1026, [-23, 630])

chart = alt.vconcat(top, bottom, spacing=45).configure(
    font=FONT, padding={"left": 4, "top": 3, "right": 0, "bottom": 0}
).configure_view(stroke="#595959", strokeWidth=1).configure_axis(
    labelFontSize=19, titleFontSize=25, titleFontWeight="normal", labelFont=FONT, titleFont=FONT,
    labelColor="#000000", titleColor="#000000", gridColor="#A6A6A6", gridWidth=1,
    domainColor="#BFBFBF", tickColor="#BFBFBF", tickSize=6
).configure_axisX(labelPadding=8, titlePadding=14).configure_axisY(labelPadding=11, titlePadding=4)

chart.save("out.html", embed_options={"renderer": "svg", "actions": False})
